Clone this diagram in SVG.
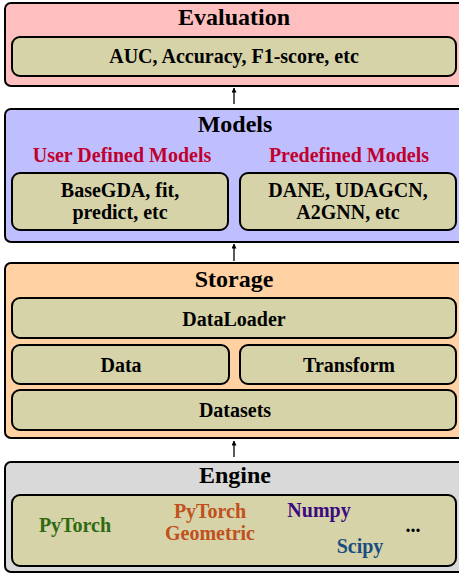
<svg xmlns="http://www.w3.org/2000/svg" width="459" height="573" viewBox="0 0 459 573">
<defs>
<marker id="ah" viewBox="0 0 10 10" refX="9" refY="5" markerWidth="5" markerHeight="5" orient="auto" markerUnits="userSpaceOnUse">
<path d="M0,0 L10,5 L0,10 z" fill="#000"/>
</marker>
<style>
.outer{stroke:#000;stroke-width:2}
.inner{fill:#d6d3a8;stroke:#000;stroke-width:2}
text{font-family:"Liberation Serif","Times New Roman",serif;font-weight:bold;text-anchor:middle}
.title{font-size:24px;fill:#000}
.lbl{font-size:20px;fill:#000}
.red{font-size:20px;fill:#c0002f}
.conn{stroke:#000;stroke-width:1.3;fill:none;marker-end:url(#ah)}
</style>
</defs>
<rect width="459" height="573" fill="#fff"/>
<g id="evaluation">
<rect class="outer" x="5" y="3" width="462" height="83" rx="6" fill="#ffbfbf"/>
<text class="title" x="234" y="25">Evaluation</text>
<rect class="inner" x="12" y="37" width="444" height="39" rx="8"/>
<text class="lbl" x="234" y="63">AUC, Accuracy, F1-score, etc</text>
</g>
<g id="models">
<rect class="outer" x="5" y="109" width="462" height="133" rx="6" fill="#bfbfff"/>
<text class="title" x="235" y="132">Models</text>
<text class="red" x="122" y="162">User Defined Models</text>
<text class="red" x="349" y="162">Predefined Models</text>
<g id="user-models">
<rect class="inner" x="12" y="173" width="216" height="57" rx="8"/>
<text class="lbl" x="120" y="197">BaseGDA, fit,</text>
<text class="lbl" x="120" y="219">predict, etc</text>
</g>
<g id="predefined-models">
<rect class="inner" x="240" y="173" width="216" height="57" rx="8"/>
<text class="lbl" x="348" y="197">DANE, UDAGCN,</text>
<text class="lbl" x="348" y="219">A2GNN, etc</text>
</g>
</g>
<g id="storage">
<rect class="outer" x="5" y="263" width="462" height="175" rx="6" fill="#ffd1a3"/>
<text class="title" x="234" y="287">Storage</text>
<g id="dataloader"><rect class="inner" x="12" y="298" width="444" height="40" rx="8"/>
<text class="lbl" x="234" y="326">DataLoader</text></g>
<g id="data"><rect class="inner" x="12" y="345" width="217" height="39" rx="8"/>
<text class="lbl" x="121" y="372">Data</text></g>
<g id="transform"><rect class="inner" x="240" y="345" width="216" height="39" rx="8"/>
<text class="lbl" x="349" y="372">Transform</text></g>
<g id="datasets"><rect class="inner" x="12" y="390" width="444" height="40" rx="8"/>
<text class="lbl" x="235" y="417">Datasets</text></g>
</g>
<g id="engine">
<rect class="outer" x="5" y="462" width="462" height="110" rx="6" fill="#d9d9d9"/>
<text class="title" x="235" y="483">Engine</text>
<rect class="inner" x="12" y="495" width="444" height="71" rx="8"/>
<text class="lbl" x="75" y="532" fill="#2e6a10" style="fill:#2e6a10">PyTorch</text>
<text class="lbl" x="210" y="518" style="fill:#c0501c">PyTorch</text>
<text class="lbl" x="210" y="540" style="fill:#c0501c">Geometric</text>
<text class="lbl" x="319" y="517" style="fill:#3d0a80">Numpy</text>
<text class="lbl" x="360" y="553" style="fill:#1a4d80">Scipy</text>
<text class="lbl" x="413" y="532">...</text>
</g>
<g id="connectors">
<line class="conn" x1="234" y1="104" x2="234" y2="88"/>
<line class="conn" x1="234" y1="261" x2="234" y2="244"/>
<line class="conn" x1="234" y1="457" x2="234" y2="441"/>
</g>
</svg>
